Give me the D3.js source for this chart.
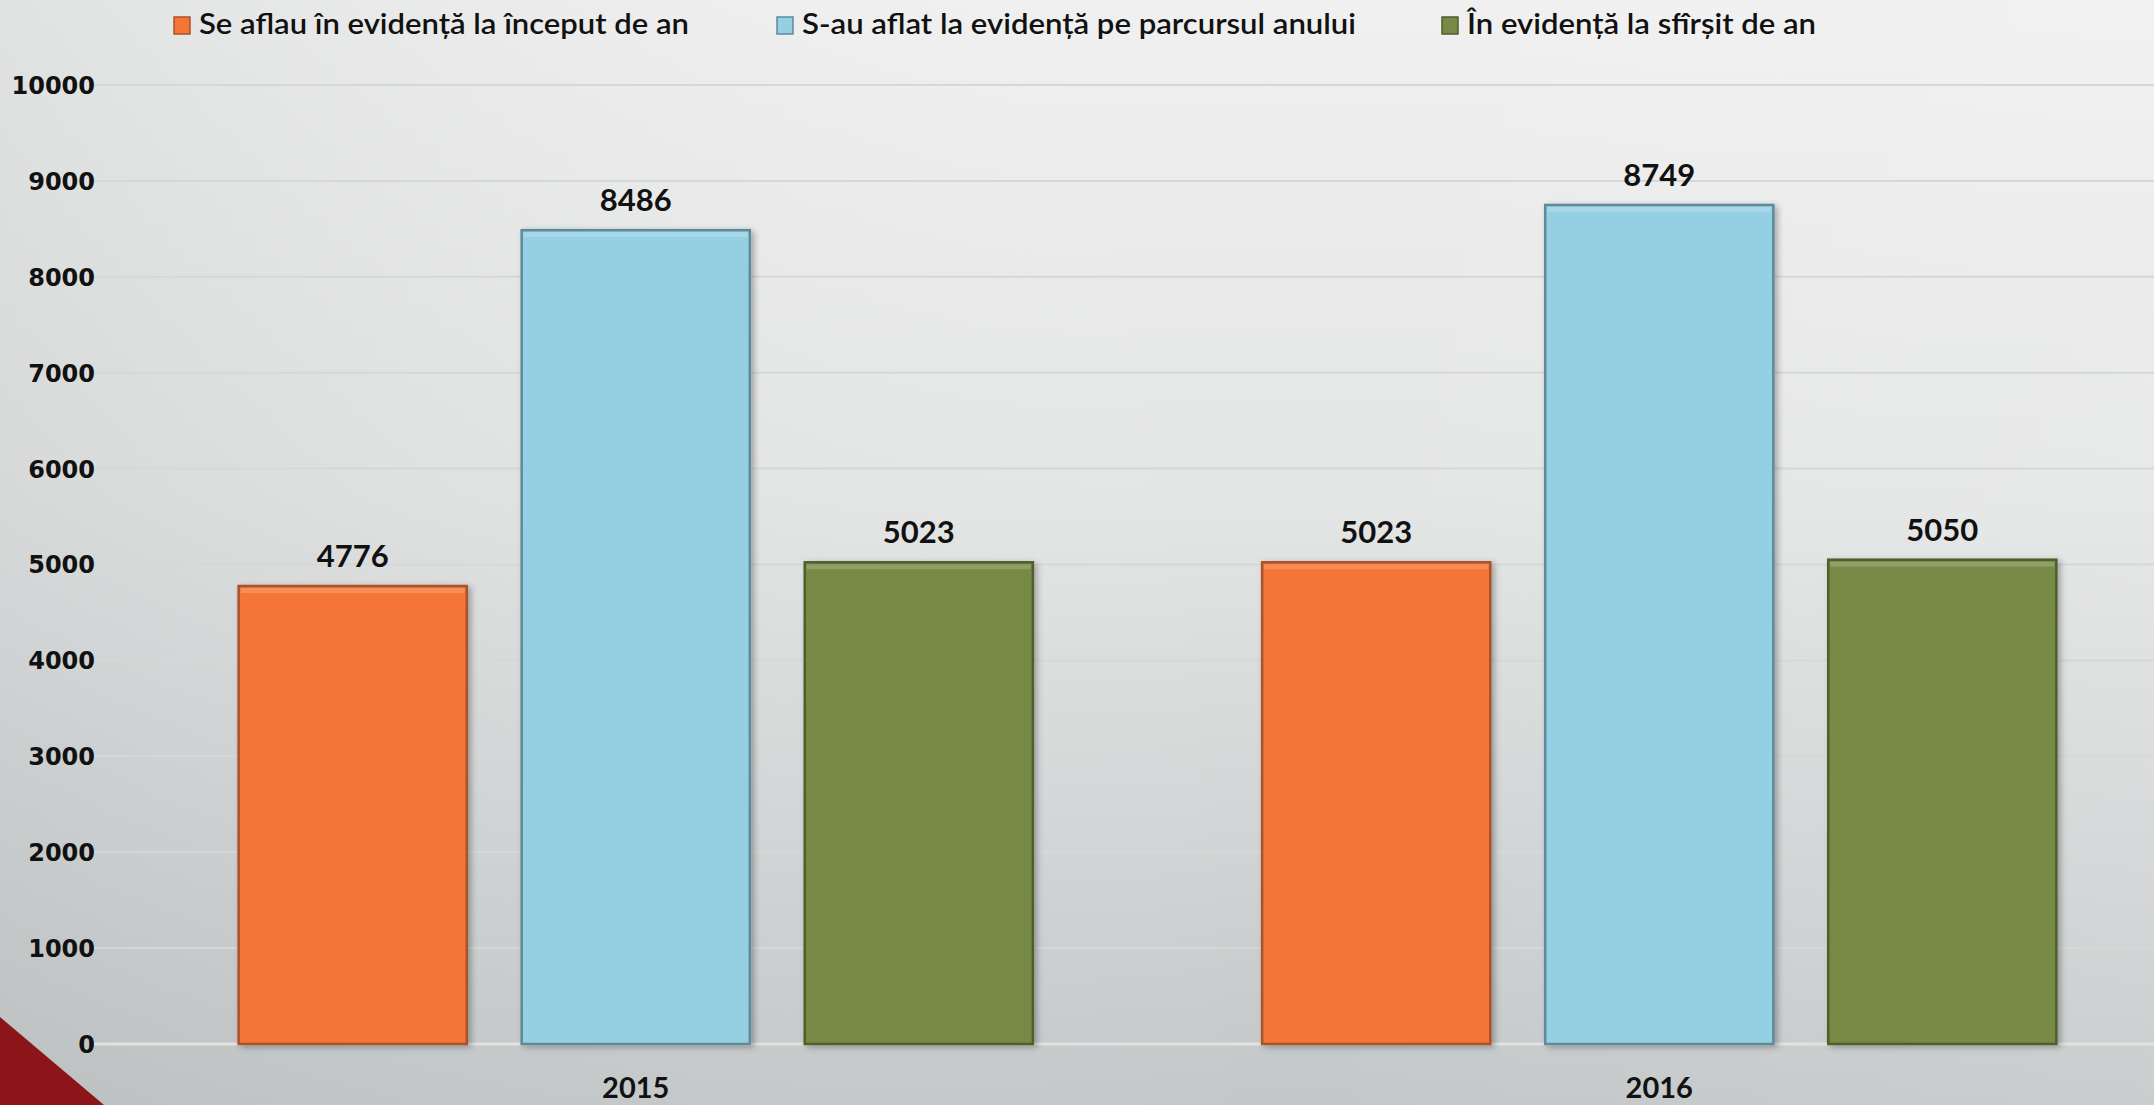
<!DOCTYPE html>
<html><head><meta charset="utf-8">
<script src="https://cdn.jsdelivr.net/npm/d3@7"></script>
<style>html,body{margin:0;padding:0;overflow:hidden;background:#e6e7e7}</style>
</head><body>
<svg id="c" width="2154" height="1105"></svg>
<script>
const categories = ["2015", "2016"];
const seriesNames = ["Se aflau în evidență la început de an", "S-au aflat la evidență pe parcursul anului", "În evidență la sfîrșit de an"];
const seriesStart = [4776, 5023];
const seriesDuring = [8486, 8749];
const seriesEnd = [5023, 5050];
const yTicks = [0, 1000, 2000, 3000, 4000, 5000, 6000, 7000, 8000, 9000, 10000];

const seriesValues = [seriesStart, seriesDuring, seriesEnd];
const fills = ["#f47535", "#95cfe3", "#778a45"];
const strokes = ["#a9532a", "#5e8a99", "#4f5e2c"];

const W = 2154, H = 1105;
const svg = d3.select("#c");
const defs = svg.append("defs");
const bg = defs.append("linearGradient").attr("id","bg").attr("x1",0).attr("y1",0).attr("x2",0).attr("y2",1);
bg.append("stop").attr("offset","0%").attr("stop-color","#f0f0f0");
bg.append("stop").attr("offset","45%").attr("stop-color","#e4e5e5");
bg.append("stop").attr("offset","100%").attr("stop-color","#c3c7c8");
const bg2 = defs.append("linearGradient").attr("id","bg2").attr("x1",0).attr("y1",0).attr("x2",1).attr("y2",0);
bg2.append("stop").attr("offset","0%").attr("stop-color","#9aa0a2").attr("stop-opacity",0.18);
bg2.append("stop").attr("offset","60%").attr("stop-color","#ffffff").attr("stop-opacity",0.0);
bg2.append("stop").attr("offset","100%").attr("stop-color","#ffffff").attr("stop-opacity",0.12);
const sh = defs.append("filter").attr("id","sh").attr("x","-10%").attr("y","-10%").attr("width","130%").attr("height","130%");
sh.append("feDropShadow").attr("dx",3).attr("dy",2).attr("stdDeviation",3).attr("flood-color","#000").attr("flood-opacity",0.3);

svg.append("rect").attr("width",W).attr("height",H).attr("fill","url(#bg)");
svg.append("rect").attr("width",W).attr("height",H).attr("fill","url(#bg2)");

const y = d3.scaleLinear().domain([0,10000]).range([1044, 85]);
const x0 = d3.scaleBand().domain(categories).range([124, 2171]).paddingInner(0.224).paddingOuter(0.112);
const x1 = d3.scaleBand().domain(d3.range(3)).range([0, x0.bandwidth()]).paddingInner(0.194).paddingOuter(0);

// gridlines
svg.append("g").selectAll("line").data(yTicks).join("line")
  .attr("x1",94).attr("x2",2154).attr("y1",d=>y(d)).attr("y2",d=>y(d))
  .attr("stroke",d=>d===0?"#e2e2e2":"#d6d8d8").attr("stroke-width",d=>d===0?3:2);

// y axis labels
const yAxis = d3.axisLeft(y).tickValues(yTicks).tickSize(0).tickPadding(0).tickFormat(d=>String(d));
const ya = svg.append("g").attr("transform","translate(95,0)").call(yAxis);
ya.select(".domain").remove();
ya.selectAll("text").attr("font-family","'DejaVu Sans', Lato, sans-serif").attr("font-weight","bold")
  .attr("font-size",24).attr("fill","#111").attr("dy","0.35em");

// triangle
svg.append("path").attr("d",`M0,1017 L104,${H} L0,${H} Z`).attr("fill","#8c1519");

// bars
const groups = svg.append("g").selectAll("g").data(categories).join("g")
  .attr("transform",d=>`translate(${x0(d)},0)`);
groups.each(function(cat, ci){
  const g = d3.select(this);
  seriesValues.forEach((vals, si)=>{
    const v = vals[ci];
    const bx = x1(si), bw = x1.bandwidth();
    g.append("rect").attr("x",bx).attr("y",y(v)).attr("width",bw).attr("height",y(0)-y(v))
      .attr("fill",fills[si]).attr("stroke",strokes[si]).attr("stroke-width",2.5).attr("filter","url(#sh)");
    g.append("rect").attr("x",bx+2).attr("y",y(v)+2).attr("width",bw-4).attr("height",5)
      .attr("fill","#fff").attr("opacity",0.18);
    g.append("text").attr("x",bx+bw/2).attr("y",y(v)-19).attr("text-anchor","middle")
      .attr("font-family","Lato, 'Open Sans', sans-serif").attr("font-weight","bold")
      .attr("font-size",31).attr("fill","#111").text(v);
  });
});

// category labels
const xAxis = d3.axisBottom(x0).tickSize(0).tickPadding(0);
const xa = svg.append("g").attr("transform","translate(0,1088)").call(xAxis);
xa.select(".domain").remove();
xa.selectAll("text").attr("font-family","Lato, 'Open Sans', sans-serif").attr("font-weight","bold")
  .attr("font-size",29).attr("fill","#111").attr("dy","0.35em");

// legend
const legX = [174, 777, 1442];
const legW = [490, 554, 349];
const lg = svg.append("g");
seriesNames.forEach((n,i)=>{
  lg.append("rect").attr("x",legX[i]).attr("y",17).attr("width",16).attr("height",17)
    .attr("fill",fills[i]).attr("stroke",strokes[i]).attr("stroke-width",1.5);
  lg.append("text").attr("x",legX[i]+25).attr("y",34)
    .attr("font-family","Lato, 'Open Sans', sans-serif").attr("font-weight","600")
    .attr("font-size",28).attr("fill","#111")
    .attr("textLength",legW[i]).attr("lengthAdjust","spacingAndGlyphs").text(n);
});
</script>
</body></html>
